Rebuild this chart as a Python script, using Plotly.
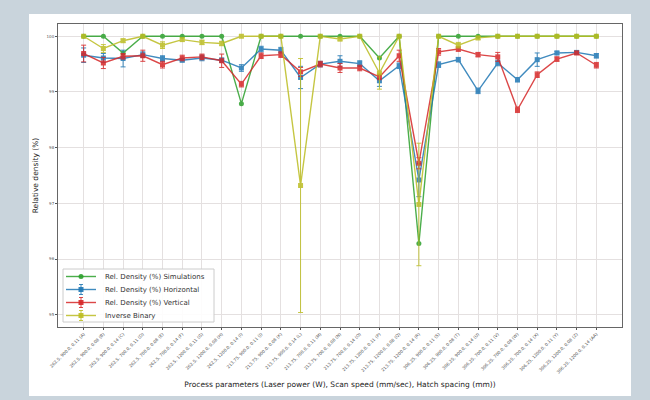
import plotly.graph_objects as go

# Process parameter sets (laser power W, scan speed mm/sec, hatch spacing mm)
labels = [
    "262.5, 900.0, 0.11 (A)", "262.5, 900.0, 0.08 (B)", "262.5, 900.0, 0.14 (C)",
    "262.5, 700.0, 0.11 (D)", "262.5, 700.0, 0.08 (E)", "262.5, 700.0, 0.14 (F)",
    "262.5, 1200.0, 0.11 (G)", "262.5, 1200.0, 0.08 (H)", "262.5, 1200.0, 0.14 (I)",
    "213.75, 900.0, 0.11 (J)", "213.75, 900.0, 0.08 (K)", "213.75, 900.0, 0.14 (L)",
    "213.75, 700.0, 0.11 (M)", "213.75, 700.0, 0.08 (N)", "213.75, 700.0, 0.14 (O)",
    "213.75, 1200.0, 0.11 (P)", "213.75, 1200.0, 0.08 (Q)", "213.75, 1200.0, 0.14 (R)",
    "306.25, 900.0, 0.11 (S)", "306.25, 900.0, 0.08 (T)", "306.25, 900.0, 0.14 (U)",
    "306.25, 700.0, 0.11 (V)", "306.25, 700.0, 0.08 (W)", "306.25, 700.0, 0.14 (X)",
    "306.25, 1200.0, 0.11 (Y)", "306.25, 1200.0, 0.08 (Z)", "306.25, 1200.0, 0.14 (AA)",
]

sim = [100.0, 100.0, 99.70, 100.0, 100.0, 100.0, 100.0, 100.0, 98.79,
       100.0, 100.0, 100.0, 100.0, 100.0, 100.0, 99.61, 100.0, 96.28,
       100.0, 100.0, 100.0, 100.0, 100.0, 100.0, 100.0, 100.0, 100.0]

horiz = [99.66, 99.61, 99.60, 99.67, 99.60, 99.57, 99.61, 99.57, 99.43,
         99.77, 99.75, 99.26, 99.50, 99.55, 99.51, 99.20, 99.47, 97.42,
         99.49, 99.58, 99.02, 99.52, 99.22, 99.58, 99.70, 99.71, 99.65]
horiz_err = [0.13, 0.08, 0.15, 0.05, 0.05, 0.03, 0.05, 0.04, 0.06,
             0.05, 0.05, 0.20, 0.05, 0.10, 0.05, 0.10, 0.05, 0.30,
             0.05, 0.04, 0.05, 0.05, 0.04, 0.12, 0.03, 0.03, 0.04]

vert = [99.69, 99.52, 99.64, 99.65, 99.49, 99.61, 99.63, 99.56, 99.14,
        99.65, 99.67, 99.36, 99.50, 99.43, 99.43, 99.27, 99.65, 97.72,
        99.72, 99.77, 99.67, 99.63, 98.68, 99.31, 99.59, 99.70, 99.48]
vert_err = [0.15, 0.10, 0.05, 0.10, 0.06, 0.05, 0.05, 0.12, 0.05,
            0.05, 0.05, 0.08, 0.05, 0.08, 0.05, 0.05, 0.10, 0.10,
            0.06, 0.04, 0.04, 0.08, 0.05, 0.05, 0.04, 0.03, 0.05]

inv_bin = [100.0, 99.78, 99.92, 100.0, 99.84, 99.94, 99.89, 99.87, 100.0,
           100.0, 100.0, 97.32, 100.0, 99.95, 100.0, 99.34, 100.0, 96.98,
           100.0, 99.84, 99.97, 100.0, 100.0, 100.0, 100.0, 100.0, 100.0]
inv_bin_err = [0.02, 0.07, 0.03, 0.02, 0.06, 0.03, 0.04, 0.04, 0.02,
               0.02, 0.02, 2.28, 0.02, 0.03, 0.02, 0.29, 0.02, 1.10,
               0.02, 0.05, 0.03, 0.02, 0.02, 0.02, 0.02, 0.02, 0.02]

y_ticks = [95, 96, 97, 98, 99, 100]

series_names = ["Rel. Density (%) Simulations", "Rel. Density (%) Horizontal",
                "Rel. Density (%) Vertical", "Inverse Binary"]
series_colors = ["#2ca02c", "#1f77b4", "#d62728", "#bcbd22"]

x = list(range(len(labels)))
font = "DejaVu Sans, Arial, sans-serif"

# plot-area geometry in pixels, used to place the hand-drawn legend
W, H = 650, 400
ML, MR, MT, MB = 58, 28, 24, 73
PW, PH = W - ML - MR, H - MT - MB


def px_x(px):
    return (px - ML) / PW


def px_y(py):
    return (H - MB - py) / PH


fig = go.Figure()


def add_series(name, values, color, symbol, err=None):
    kw = {}
    if err is not None:
        kw["error_y"] = dict(type="data", array=err, visible=True,
                             color=color, thickness=1, width=2.5)
    fig.add_trace(go.Scatter(
        x=x, y=values, name=name, mode="lines+markers",
        line=dict(color=color, width=1.4),
        marker=dict(color=color, size=5, symbol=symbol),
        opacity=0.85, showlegend=False,
        **kw,
    ))


add_series(series_names[0], sim, series_colors[0], "circle")
add_series(series_names[1], horiz, series_colors[1], "square", horiz_err)
add_series(series_names[2], vert, series_colors[2], "square", vert_err)
add_series(series_names[3], inv_bin, series_colors[3], "square", inv_bin_err)

shapes = []
annotations = []

# white card behind the plot on the tinted page
shapes.append(dict(type="rect", xref="paper", yref="paper",
                   x0=px_x(29), x1=px_x(631), y0=px_y(396), y1=px_y(14),
                   fillcolor="white", line=dict(width=0), layer="below"))

# compact legend box in the lower-left corner
shapes.append(dict(type="rect", xref="paper", yref="paper",
                   x0=px_x(63), x1=px_x(214), y0=px_y(322), y1=px_y(269),
                   fillcolor="rgba(255,255,255,0.9)",
                   line=dict(color="#cccccc", width=1), layer="above"))

row_y = [276.5, 289.5, 302.5, 315.5]
for i, (name, color) in enumerate(zip(series_names, series_colors)):
    yy = row_y[i]
    shapes.append(dict(type="line", xref="paper", yref="paper",
                       x0=px_x(66), x1=px_x(96), y0=px_y(yy), y1=px_y(yy),
                       line=dict(color=color, width=1.4), opacity=0.85))
    if i == 0:
        shapes.append(dict(type="circle", xref="paper", yref="paper",
                           x0=px_x(78.5), x1=px_x(83.5), y0=px_y(yy + 2.5), y1=px_y(yy - 2.5),
                           fillcolor=color, line=dict(width=0), opacity=0.9))
    else:
        shapes.append(dict(type="line", xref="paper", yref="paper",
                           x0=px_x(81), x1=px_x(81), y0=px_y(yy + 5), y1=px_y(yy - 5),
                           line=dict(color=color, width=1), opacity=0.85))
        for cap in (yy - 5, yy + 5):
            shapes.append(dict(type="line", xref="paper", yref="paper",
                               x0=px_x(79), x1=px_x(83), y0=px_y(cap), y1=px_y(cap),
                               line=dict(color=color, width=1), opacity=0.85))
        shapes.append(dict(type="rect", xref="paper", yref="paper",
                           x0=px_x(78.5), x1=px_x(83.5), y0=px_y(yy + 2.5), y1=px_y(yy - 2.5),
                           fillcolor=color, line=dict(width=0), opacity=0.9))
    annotations.append(dict(xref="paper", yref="paper", x=px_x(103), y=px_y(yy),
                            xanchor="left", yanchor="middle", showarrow=False,
                            text=name, font=dict(size=7, color="#333333", family=font)))

fig.update_layout(
    width=W, height=H,
    margin=dict(l=ML, r=MR, t=MT, b=MB),
    paper_bgcolor="#c9d4dc",
    plot_bgcolor="white",
    font=dict(family=font, color="#333333"),
    showlegend=False,
    shapes=shapes,
    annotations=annotations,
    xaxis=dict(
        range=[-1.3, 27.3],
        tickmode="array", tickvals=x, ticktext=labels,
        tickangle=-45, tickfont=dict(size=4.3, color="#555555"),
        ticks="outside", ticklen=2, tickcolor="#555555",
        showgrid=True, gridcolor="#e4e0e0", gridwidth=1,
        showline=True, linecolor="#666666", linewidth=1, mirror=True,
        zeroline=False,
        title=dict(text="Process parameters (Laser power (W), Scan speed (mm/sec), Hatch spacing (mm))",
                   font=dict(size=7.5, color="#222222"), standoff=8),
    ),
    yaxis=dict(
        range=[94.78, 100.22],
        tickmode="array", tickvals=y_ticks, ticktext=[str(v) for v in y_ticks],
        tickfont=dict(size=4, color="#555555"),
        ticks="outside", ticklen=2, tickcolor="#555555",
        showgrid=True, gridcolor="#e4e0e0", gridwidth=1,
        showline=True, linecolor="#666666", linewidth=1, mirror=True,
        zeroline=False,
        title=dict(text="Relative density (%)", font=dict(size=7.5, color="#222222"), standoff=6),
    ),
)

fig.write_html("out.html")
